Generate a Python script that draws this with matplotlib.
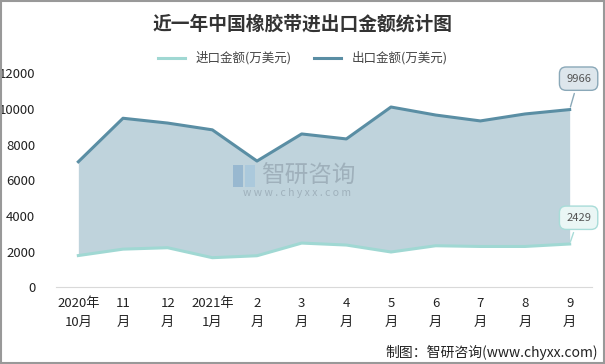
import matplotlib.pyplot as plt
from matplotlib.patches import Rectangle

plt.rcParams['font.family'] = ['Noto Sans CJK SC', 'DejaVu Sans']

# data (万美元)
months = ["2020年\n10月", "11\n月", "12\n月", "2021年\n1月", "2\n月", "3\n月",
          "4\n月", "5\n月", "6\n月", "7\n月", "8\n月", "9\n月"]
imports = [1780, 2140, 2220, 1660, 1770, 2480, 2370, 1980, 2330, 2290, 2290, 2429]
exports = [7040, 9480, 9210, 8830, 7080, 8600, 8320, 10110, 9660, 9330, 9720, 9966]

imp_color = "#a0d8d3"
exp_color = "#5a8ea4"
fill_color = "#bfd3dc"

fig = plt.figure(figsize=(6.05, 3.64), dpi=100)
ax = fig.add_axes([56 / 605, 0.2107, 536 / 605, 0.5879])

x = list(range(len(months)))
ax.fill_between(x, imports, exports, color=fill_color, lw=0, zorder=1)
ax.plot(x, imports, color=imp_color, lw=2.2, label="进口金额(万美元)", zorder=3)
ax.plot(x, exports, color=exp_color, lw=2.2, label="出口金额(万美元)", zorder=3)

ax.set_xlim(-0.5, 11.5)
ax.set_ylim(0, 12000)
ax.set_yticks(range(0, 12001, 2000))
ax.set_xticks(x)
ax.set_xticklabels(months, fontsize=9.5, color="#222222", linespacing=1.6)
ax.tick_params(axis="y", length=0, pad=15, labelsize=9.5, labelcolor="#222222")
ax.tick_params(axis="x", length=0, pad=7)
for s in ["top", "right", "left"]:
    ax.spines[s].set_visible(False)
ax.spines["bottom"].set_color("#d9d9d9")

# watermark
ax.text(0.47, 0.52, "智研咨询", transform=ax.transAxes, fontsize=17, color="#8a9aa6",
        alpha=0.6, ha="center", va="center", zorder=2)
ax.text(0.45, 0.44, "w w w . c h y x x . c o m", transform=ax.transAxes, fontsize=7.5,
        color="#8a9aa6", alpha=0.6, ha="center", va="center", zorder=2)
for (lx, ly, lw_, lh, c) in [(233, 165, 10, 22, "#7fa7c8"), (245, 165, 10, 22, "#9fc3dd")]:
    fig.patches.append(Rectangle((lx / 605, 1 - (ly + lh) / 364), lw_ / 605, lh / 364,
                                 transform=fig.transFigure, fc=c, ec="none", alpha=0.6,
                                 zorder=2))

# callouts
ax.annotate(f"{exports[-1]}", xy=(x[-1], exports[-1]), xytext=(x[-1] + 0.2, 11700),
            fontsize=8, color="#555555", ha="center", va="center", zorder=5,
            bbox=dict(boxstyle="round,pad=0.6", fc="#dde6ec", ec="#8aa8b8", lw=1),
            arrowprops=dict(arrowstyle="-", color="#8aa8b8", lw=1))
ax.annotate(f"{imports[-1]}", xy=(x[-1], imports[-1]), xytext=(x[-1] + 0.2, 3900),
            fontsize=8, color="#555555", ha="center", va="center", zorder=5,
            bbox=dict(boxstyle="round,pad=0.6", fc="#eaf6f5", ec="#a8dcd8", lw=1),
            arrowprops=dict(arrowstyle="-", color="#a8dcd8", lw=1))

fig.legend(loc="center", bbox_to_anchor=(0.5, 0.84), ncol=2, frameon=False,
           fontsize=9, handlelength=2.2, columnspacing=1.8, labelcolor="#444444")

fig.text(0.5, 0.935, "近一年中国橡胶带进出口金额统计图", ha="center", va="center",
         fontsize=13.5, fontweight="bold", color="#333333")
fig.text(0.988, 0.032, "制图：智研咨询(www.chyxx.com)", ha="right", va="center",
         fontsize=10, color="#222222")

fig.patches.append(Rectangle((0.001, 0.002), 0.997, 0.995, transform=fig.transFigure,
                             fill=False, ec="#999999", lw=1.5))

fig.savefig("out.png", dpi=100)
